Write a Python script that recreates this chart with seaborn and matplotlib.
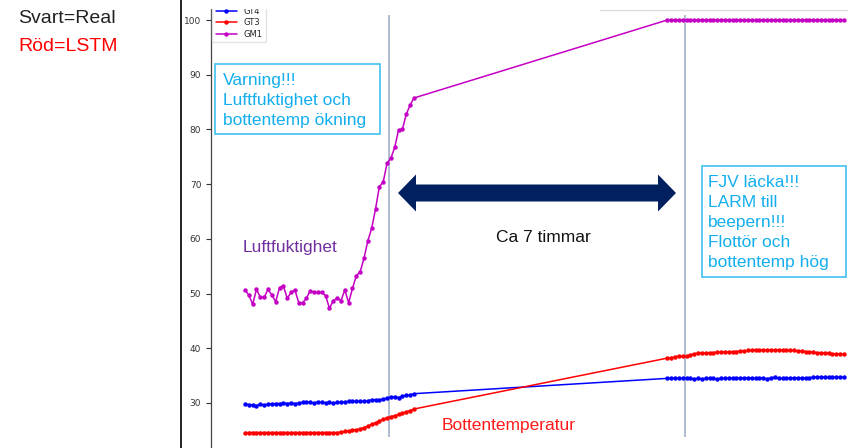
import matplotlib
matplotlib.use("Agg")
import matplotlib.pyplot as plt
import seaborn as sns
import pandas as pd
from matplotlib.patches import Rectangle, Polygon
from matplotlib.lines import Line2D

# sample index of each logged reading (gap of missing samples in the middle)
idxBefore = list(range(0, 45))
idxAfter = list(range(110, 157))

# GM1 - luftfuktighet
gm1Before = [50.65, 49.73, 48.03, 50.77, 49.31, 49.31, 50.77, 49.73, 48.52, 51.08,
             51.44, 49.13, 50.22, 50.65, 48.33, 48.33, 49.13, 50.53, 50.22, 50.22,
             50.22, 49.61, 47.30, 48.70, 49.13, 48.70, 50.65, 48.33, 50.95, 53.27,
             54.00, 56.44, 59.67, 61.92, 65.45, 69.54, 70.39, 73.80, 74.72, 76.73,
             79.89, 80.02, 82.76, 84.46, 85.74]
gm1After = [100.0] * 47

# GT3 - bottentemperatur
gt3Before = [24.6] * 25 + [24.7, 24.8, 24.9, 25.0, 25.1, 25.3, 25.5, 25.8, 26.1, 26.4,
                           26.7, 27.0, 27.3, 27.5, 27.7, 27.9, 28.1, 28.4, 28.6, 28.9]
gt3After = [38.2, 38.3, 38.4, 38.6, 38.5, 38.5, 38.8, 39.0, 39.1, 39.1,
            39.1, 39.2, 39.2, 39.3, 39.3, 39.3, 39.3, 39.4, 39.4, 39.5,
            39.5, 39.6, 39.6, 39.7, 39.7, 39.7, 39.7, 39.7, 39.7, 39.7,
            39.7, 39.6, 39.6, 39.6, 39.5, 39.5, 39.4, 39.3, 39.3, 39.2,
            39.2, 39.1, 39.1, 39.0, 39.0, 39.0, 38.9]

# GT4
gt4Before = [29.8, 29.7, 29.6, 29.5, 29.8, 29.6, 29.8, 29.8, 29.9, 29.9,
             30.0, 29.9, 30.0, 29.9, 30.0, 30.1, 30.1, 30.1, 30.0, 30.2,
             30.1, 30.0, 30.1, 30.0, 30.1, 30.1, 30.2, 30.3, 30.3, 30.3,
             30.3, 30.3, 30.4, 30.6, 30.6, 30.6, 30.7, 30.9, 31.1, 31.1,
             31.0, 31.2, 31.4, 31.5, 31.7]
gt4After = [34.5, 34.5, 34.5, 34.5, 34.5, 34.5, 34.5, 34.4, 34.5, 34.4,
            34.5, 34.5, 34.5, 34.4, 34.5, 34.5, 34.5, 34.6, 34.5, 34.5,
            34.6, 34.6, 34.5, 34.5, 34.6, 34.6, 34.4, 34.6, 34.7, 34.5,
            34.5, 34.6, 34.5, 34.6, 34.6, 34.5, 34.6, 34.6, 34.7, 34.7,
            34.8, 34.7, 34.7, 34.7, 34.7, 34.7, 34.7]

sensorNames = ["GT4", "GT3", "GM1"]
sensorColors = ["#0000ff", "#ff0000", "#c400c4"]

# sample index of the two events (warning, alarm)
eventIdx = [37.5, 114.6]


def px(x, y):
    # slide pixel -> figure fraction
    return x / 848, 1 - y / 448


def runPlot() -> None:
    sns.set_theme(style="ticks")
    plt.rcParams["font.family"] = ["DejaVu Sans"]

    rows = []
    for name, before, after in [("GT4", gt4Before, gt4After),
                                ("GT3", gt3Before, gt3After),
                                ("GM1", gm1Before, gm1After)]:
        for i, v in zip(idxBefore + idxAfter, before + after):
            rows.append({"idx": i, "value": v, "sensor": name})
    df = pd.DataFrame(rows)

    fig = plt.figure(figsize=(8.48, 4.48), dpi=100)
    ax = fig.add_axes([211 / 848, -12 / 448, (900 - 211) / 848, 458 / 448])

    sns.lineplot(data=df, x="idx", y="value", hue="sensor", hue_order=sensorNames,
                 palette=sensorColors, marker="o", markersize=3.2, markeredgewidth=0,
                 linewidth=1.1, ax=ax)
    ax.set_xlim(-8.85, 170.6)
    ax.set_ylim(19.58, 103.29)
    ax.set_yticks([30, 40, 50, 60, 70, 80, 90, 100])
    ax.set_xticks([])
    ax.set_xlabel("")
    ax.set_ylabel("")
    ax.tick_params(axis="y", labelsize=6.5, length=3.5, width=0.8, colors="#333333")
    for s in ax.spines.values():
        s.set_color("#444444")
        s.set_linewidth(0.9)

    handles, labels = ax.get_legend_handles_labels()
    ax.legend(handles, labels, loc="upper left", fontsize=6, handlelength=2.6,
              labelspacing=0.3, borderaxespad=0.15, frameon=True,
              edgecolor="#dddddd", fancybox=True)

    # event markers
    ax.vlines(eventIdx, 23.8, 100.9, color="#aab6cf", linewidth=1.3, zorder=1)

    # slide decorations
    fig.add_artist(Rectangle(px(182, 9), 666 / 848, 9 / 448, transform=fig.transFigure,
                             facecolor="white", edgecolor="none", zorder=5))
    fig.add_artist(Line2D([600 / 848, 1], [1 - 10.5 / 448] * 2, transform=fig.transFigure,
                          color="#dcdcdc", linewidth=1, zorder=6))
    fig.add_artist(Line2D([181 / 848] * 2, [0, 1], transform=fig.transFigure,
                          color="#222222", linewidth=1.4, zorder=6))

    # double arrow
    arrowPts = [(398, 193), (416, 174.5), (416, 184.5), (658, 184.5), (658, 174.5),
                (676, 193), (658, 211.5), (658, 201.5), (416, 201.5), (416, 211.5)]
    fig.add_artist(Polygon([px(x, y) for x, y in arrowPts], closed=True,
                           transform=fig.transFigure, facecolor="#002060",
                           edgecolor="none", zorder=6))

    # text boxes
    boxColor = "#3fc0f0"
    textBlue = "#13aeee"
    fig.add_artist(Rectangle(px(215, 134), 165 / 848, 70 / 448, transform=fig.transFigure,
                             facecolor="white", edgecolor=boxColor, linewidth=1.2, zorder=6))
    fig.add_artist(Rectangle(px(702, 277), 144 / 848, 111 / 448, transform=fig.transFigure,
                             facecolor="white", edgecolor=boxColor, linewidth=1.2, zorder=6))
    font = dict(family="Liberation Sans", zorder=7)
    for k, line in enumerate(["Varning!!!", "Luftfuktighet och", "bottentemp ökning"]):
        fig.text(*px(223, 84.5 + 20 * k), line, fontsize=12.5, color=textBlue,
                 va="baseline", **font)
    for k, line in enumerate(["FJV läcka!!!", "LARM till", "beepern!!!",
                              "Flottör och", "bottentemp hög"]):
        fig.text(*px(708, 187 + 20 * k), line, fontsize=12.5, color=textBlue,
                 va="baseline", **font)

    fig.text(*px(543, 242), "Ca 7 timmar", fontsize=12.5, color="#111111",
             ha="center", va="baseline", **font)
    fig.text(*px(243, 252), "Luftfuktighet", fontsize=12.5, color="#7030a0",
             va="baseline", **font)
    fig.text(*px(442, 430), "Bottentemperatur", fontsize=12.5, color="#ff1a1a",
             va="baseline", **font)
    fig.text(*px(18, 23), "Svart=Real", fontsize=14, color="#222222",
             va="baseline", **font)
    fig.text(*px(18, 51), "Röd=LSTM", fontsize=14, color="#ff0000",
             va="baseline", **font)

    fig.savefig("out.png", dpi=100)
    plt.close(fig)


if __name__ == "__main__":
    runPlot()
